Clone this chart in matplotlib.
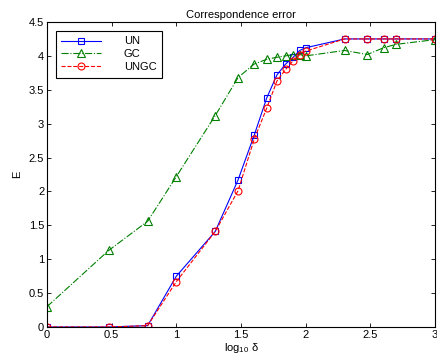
import numpy as np
import matplotlib
matplotlib.use("Agg")
import matplotlib.pyplot as plt

plt.rcParams['font.family'] = ['Liberation Sans', 'DejaVu Sans']
plt.rcParams['mathtext.fontset'] = 'custom'
plt.rcParams['mathtext.rm'] = 'Liberation Sans'

# log10(delta) positions
delta = [1, 3, 6, 10, 20, 30, 40, 50, 60, 70, 80, 90, 100, 200, 300, 400, 500, 1000]
logd = np.log10(delta)

un = [0.0, 0.0, 0.02, 0.75, 1.41, 2.17, 2.83, 3.38, 3.72, 3.88, 3.98, 4.08, 4.12,
      4.25, 4.25, 4.25, 4.25, 4.25]
gc = [0.30, 1.13, 1.56, 2.22, 3.12, 3.68, 3.88, 3.95, 3.98, 4.00, 4.02, 4.02, 4.00,
      4.08, 4.02, 4.12, 4.17, 4.24]
ungc = [0.0, 0.0, 0.02, 0.67, 1.41, 2.01, 2.77, 3.23, 3.63, 3.80, 3.93, 4.02, 4.07,
        4.25, 4.25, 4.25, 4.25, 4.25]

fig = plt.figure(figsize=(4.37, 3.6), dpi=100)
ax = fig.add_axes([0.1076, 0.0917, 0.8878, 0.8472])

ax.plot(logd, un, '-', color='b', marker='s', mfc='none', ms=5, lw=0.8, mew=0.8, label='UN')
ax.plot(logd, gc, '-.', color=(0, 0.5, 0), marker='^', mfc='none', ms=6, lw=0.8, mew=0.8,
        label='GC')
ax.plot(logd, ungc, '--', color='r', marker='o', mfc='none', ms=5, lw=0.8, mew=0.8,
        label='UNGC')

ax.set_xlim(0, 3)
ax.set_ylim(0, 4.5)
ax.set_xticks(np.arange(0, 3.01, 0.5))
ax.set_xticklabels(['0', '0.5', '1', '1.5', '2', '2.5', '3'])
ax.set_yticks(np.arange(0, 4.51, 0.5))
ax.set_yticklabels(['0', '0.5', '1', '1.5', '2', '2.5', '3', '3.5', '4', '4.5'])
ax.tick_params(direction='in', top=True, right=True, labelsize=8, length=3, width=0.6,
               pad=2)
for s in ax.spines.values():
    s.set_linewidth(0.8)

ax.set_title('Correspondence error', fontsize=8, pad=3)
ax.set_xlabel(r'log$_{10}$ δ', fontsize=8, labelpad=1)
ax.set_ylabel('E', fontsize=8, labelpad=5)

leg = ax.legend(loc='upper left', fontsize=8, handlelength=3.6, fancybox=False,
                edgecolor='k', framealpha=1, borderaxespad=0.8, labelspacing=0.25,
                handletextpad=2.0, borderpad=0.5)
leg.get_frame().set_linewidth(0.8)

fig.savefig('out.png', dpi=100)
